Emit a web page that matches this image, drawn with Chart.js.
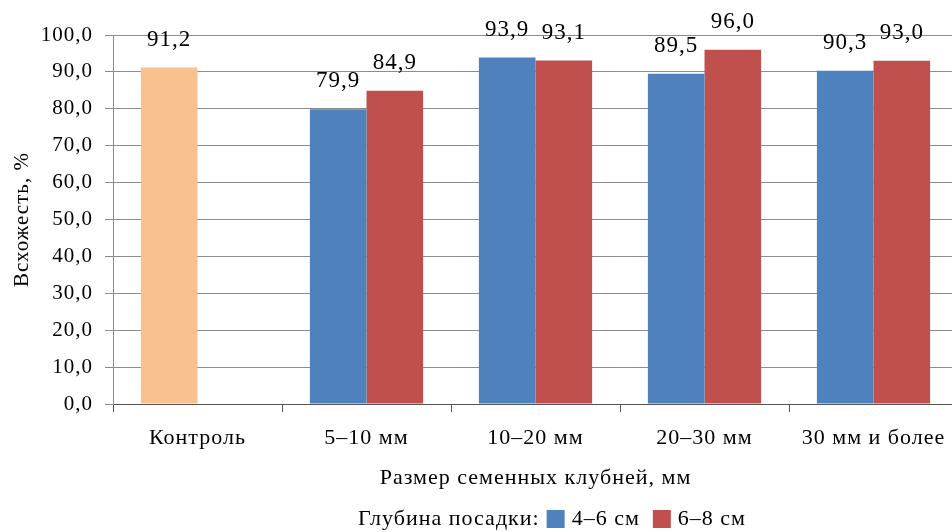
<!DOCTYPE html>
<html lang="ru">
<head>
<meta charset="UTF-8">
<title>Всхожесть</title>
<script src="https://cdn.jsdelivr.net/npm/chart.js"></script>
<style>
    html, body { margin: 0; padding: 0; background: #fff; overflow: hidden; }
    #wrap { position: relative; width: 960px; height: 532px; }
</style>
</head>
<body>
<div id="wrap"><canvas id="chart"></canvas></div>
<script>
// data
var categories = ['Контроль', '5–10 мм', '10–20 мм', '20–30 мм', '30 мм и более'];
var depth46 = [91.2, 79.9, 93.9, 89.5, 90.3];
var depth68 = [null, 84.9, 93.1, 96.0, 93.0];
var seriesNames = ['4–6 см', '6–8 см'];
var legendTitle = 'Глубина посадки:';
var yTitle = 'Всхожесть, %';
var xTitle = 'Размер семенных клубней, мм';

var BLUE = '#4F81BD', RED = '#C0504D', PEACH = '#F9C090';
var FONT = '"Liberation Serif", "Times New Roman", serif';

function fmt(v) { return v.toFixed(1).replace('.', ','); }

// the original text is a bit wide, so space the letters out slightly
var spacing = {
    id: 'spacing',
    beforeLayout: function (chart) { chart.ctx.letterSpacing = '1px'; },
    beforeDraw: function (chart) { chart.ctx.letterSpacing = '1px'; }
};

// value labels above the bars
var valueLabels = {
    id: 'valueLabels',
    afterDatasetsDraw: function (chart) {
        var ctx = chart.ctx;
        ctx.save();
        ctx.font = '23px ' + FONT;
        ctx.fillStyle = '#000';
        ctx.textAlign = 'center';
        ctx.textBaseline = 'middle';
        chart.data.datasets.forEach(function (ds, i) {
            chart.getDatasetMeta(i).data.forEach(function (bar, j) {
                var v = ds.data[j];
                if (v == null) return;
                var y = Math.max(bar.y - 28, 22);
                ctx.fillText(fmt(v), bar.x, y);
            });
        });
        ctx.restore();
    }
};

// inline legend: "Глубина посадки:  ■ 4–6 см   ■ 6–8 см"
var inlineLegend = {
    id: 'inlineLegend',
    afterDraw: function (chart) {
        var ctx = chart.ctx;
        ctx.save();
        ctx.font = '22px ' + FONT;
        ctx.fillStyle = '#000';
        ctx.textBaseline = 'middle';
        var y = 519;
        var x = 358;
        ctx.fillText(legendTitle, x, y);
        x += ctx.measureText(legendTitle).width + 7;
        var colors = [BLUE, RED];
        seriesNames.forEach(function (name, i) {
            ctx.fillStyle = colors[i];
            ctx.fillRect(x, y - 9, 18, 18);
            x += 25;
            ctx.fillStyle = '#000';
            ctx.fillText(name, x, y);
            x += ctx.measureText(name).width + 13;
        });
        ctx.restore();
    }
};

new Chart(document.getElementById('chart'), {
    type: 'bar',
    data: {
        labels: categories,
        datasets: [
            {
                label: seriesNames[0],
                data: depth46,
                backgroundColor: [PEACH, BLUE, BLUE, BLUE, BLUE],
                categoryPercentage: 0.67,
                barPercentage: 1.0
            },
            {
                label: seriesNames[1],
                data: depth68,
                backgroundColor: RED,
                categoryPercentage: 0.67,
                barPercentage: 1.0
            }
        ]
    },
    options: {
        responsive: true,
        maintainAspectRatio: false,
        animation: false,
        layout: { padding: { top: 35, right: 2, bottom: 40, left: 0 } },
        plugins: {
            legend: { display: false },
            tooltip: { enabled: false }
        },
        scales: {
            x: {
                grid: {
                    offset: true,
                    drawOnChartArea: false,
                    drawTicks: true,
                    tickLength: 8,
                    color: '#555'
                },
                border: { color: '#555', width: 1 },
                ticks: {
                    color: '#000',
                    font: { family: FONT, size: 22 },
                    padding: 13,
                    maxRotation: 0
                },
                title: {
                    display: true,
                    text: xTitle,
                    color: '#000',
                    font: { family: FONT, size: 22 },
                    padding: { top: 4, bottom: 1 }
                },
                afterFit: function (s) { s.height = 88; }
            },
            y: {
                min: 0,
                max: 100,
                ticks: {
                    stepSize: 10,
                    color: '#000',
                    font: { family: FONT, size: 21 },
                    padding: 12,
                    callback: function (v) { return fmt(v); }
                },
                grid: { color: '#8c8c8c', tickLength: 8 },
                border: { color: '#8c8c8c' },
                title: {
                    display: true,
                    text: yTitle,
                    color: '#000',
                    font: { family: FONT, size: 21 },
                    padding: { top: 10, bottom: 0 }
                },
                afterFit: function (s) { s.width = 113; }
            }
        }
    },
    plugins: [spacing, valueLabels, inlineLegend]
});
</script>
</body>
</html>
